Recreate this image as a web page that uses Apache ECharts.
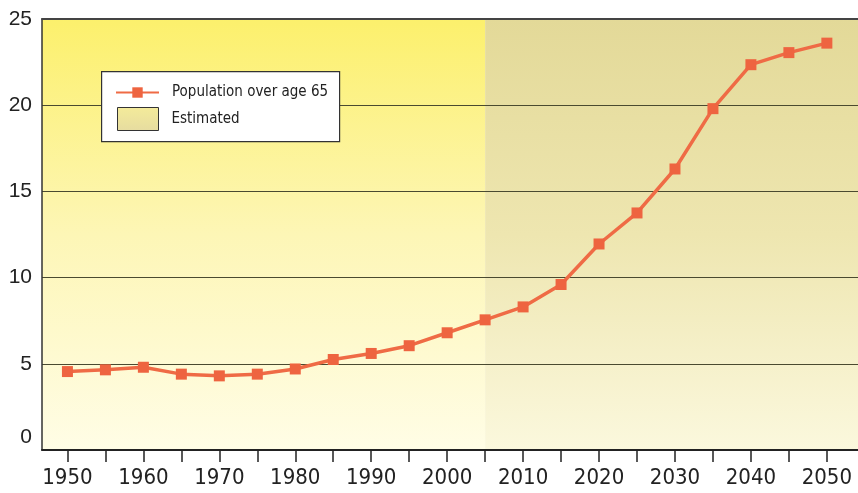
<!DOCTYPE html>
<html>
<head>
<meta charset="utf-8">
<title>Population over age 65</title>
<script src="https://cdn.jsdelivr.net/npm/echarts@6/dist/echarts.min.js"></script>
<style>
  html, body { margin: 0; padding: 0; background: #fff; }
  #main { width: 858px; height: 493px; }
</style>
</head>
<body>
<div id="main"></div>
<script>
// data
const years = [1950, 1955, 1960, 1965, 1970, 1975, 1980, 1985, 1990, 1995, 2000,
               2005, 2010, 2015, 2020, 2025, 2030, 2035, 2040, 2045, 2050];
const over65 = [4.55, 4.65, 4.8, 4.4, 4.3, 4.4, 4.7, 5.25, 5.6, 6.05, 6.8,
                7.55, 8.3, 9.6, 11.95, 13.75, 16.3, 19.8, 22.35, 23.05, 23.6];
const xLabels = [1950, 1960, 1970, 1980, 1990, 2000, 2010, 2020, 2030, 2040, 2050];
const yTicks = [0, 5, 10, 15, 20, 25];
const estimatedFrom = 2005;

// plot edges sit a bit past 1950 / 2050 (right edge runs off the picture)
const xMin = 1946.65, xMax = 2054.1;
const narrow = "'DejaVu Sans Condensed', 'Liberation Sans Narrow', 'Liberation Sans', sans-serif";

let chart = echarts.init(document.getElementById('main'));

const grad = (stops) => ({
    type: 'linear', x: 0, y: 0, x2: 0, y2: 1,
    colorStops: stops.map(s => ({ offset: s[0], color: s[1] }))
});

const option = {
    animation: false,
    grid: { left: 42, right: -4, top: 19, bottom: 43 },
    legend: [{
        data: ['Population over age 65'],
        left: 115, top: 85, padding: 0,
        itemWidth: 43, itemHeight: 13,
        textStyle: { fontFamily: narrow, fontSize: 15, color: '#222', padding: [0, 0, 0, 8] },
        z: 20
    }, {
        data: [{
            name: 'Estimated', icon: 'rect',
            itemStyle: { color: grad([[0, '#f4eb9a'], [1, '#e6dca0']]), borderColor: '#333', borderWidth: 1 }
        }],
        left: 117, top: 107, padding: 0,
        itemWidth: 41, itemHeight: 23,
        textStyle: { fontFamily: narrow, fontSize: 15, color: '#222', padding: [0, 0, 0, 8] },
        z: 20
    }],
    graphic: [{
        type: 'rect', left: 101, top: 71, z: 15,
        shape: { width: 238, height: 70 },
        style: { fill: '#fff', stroke: '#333', lineWidth: 1.2 }
    }],
    xAxis: [{
        type: 'value', min: xMin, max: xMax, z: 3,
        axisLine: { lineStyle: { color: '#222', width: 2 } },
        axisTick: { show: true, length: 12, customValues: years, lineStyle: { color: '#222', width: 1.5 } },
        axisLabel: {
            customValues: xLabels, margin: 17,
            formatter: v => String(v),
            fontFamily: narrow, fontSize: 22, color: '#222'
        },
        splitLine: { show: false }
    }, {
        type: 'value', min: xMin, max: xMax, position: 'top', z: 3,
        axisLine: { show: true, lineStyle: { color: '#444', width: 2 } },
        axisTick: { show: false }, axisLabel: { show: false }, splitLine: { show: false }
    }],
    yAxis: {
        type: 'value', min: 0, max: 25, interval: 5, z: 3,
        axisLine: { show: true, lineStyle: { color: '#333', width: 1.5 } },
        axisTick: { show: false },
        axisLabel: {
            margin: 10, fontFamily: 'Liberation Sans, sans-serif', fontSize: 21, color: '#222',
            customValues: yTicks,
            formatter: v => v === 0 ? '{z|0}' : String(v),
            rich: { z: { fontFamily: 'Liberation Sans, sans-serif', fontSize: 21, color: '#222', padding: [0, 0, 26, 0] } }
        },
        splitLine: { lineStyle: { color: '#4a4a30', width: 1 } }
    },
    series: [{
        name: 'Population over age 65',
        type: 'line', z: 5,
        data: years.map((y, i) => [y, over65[i]]),
        symbol: 'rect', symbolSize: 11,
        itemStyle: { color: '#ee6440' },
        lineStyle: { color: '#ef6b45', width: 3.5 },
        markArea: {
            silent: true, z: 1,
            data: [
                [{ xAxis: xMin, itemStyle: { color: grad([[0, '#fcf06c'], [0.5, '#fdf6b6'], [1, '#fffde6']]) } }, { xAxis: estimatedFrom }],
                [{ xAxis: estimatedFrom, itemStyle: { color: grad([[0, '#e3d998'], [0.5, '#eee6b0'], [1, '#fbf8dd']]) } }, { xAxis: xMax }]
            ]
        }
    }, {
        name: 'Estimated',
        type: 'line',
        data: []
    }]
};

chart.setOption(option);
</script>
</body>
</html>
